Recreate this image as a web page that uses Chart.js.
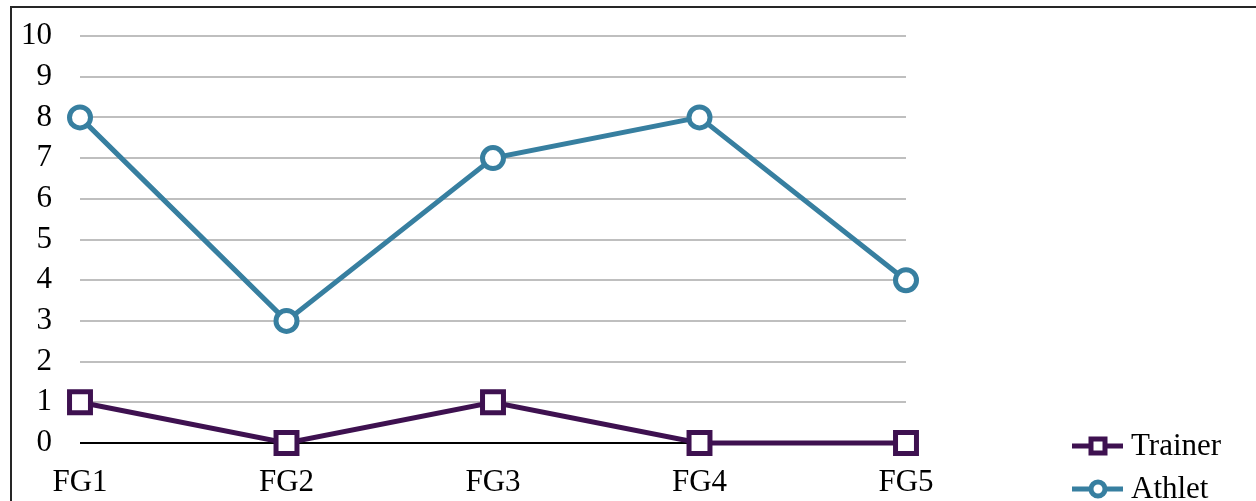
<!DOCTYPE html>
<html>
<head>
<meta charset="utf-8">
<script src="https://cdn.jsdelivr.net/npm/chart.js@4.4.1/dist/chart.umd.min.js"></script>
<style>
  html, body { margin: 0; padding: 0; background: #fff; }
  #wrap { position: relative; width: 1256px; height: 501px; }
  canvas { display: block; }
</style>
</head>
<body>
<div id="wrap"><canvas id="c" width="1256" height="501"></canvas></div>
<script>
// Focus-group categories and counts per group
const categories = ['FG1', 'FG2', 'FG3', 'FG4', 'FG5'];
const trainerValues = [1, 0, 1, 0, 0];
const athletValues = [8, 3, 7, 8, 4];
const yTicks = [0, 1, 2, 3, 4, 5, 6, 7, 8, 9, 10];

const FONT = '"Liberation Serif", "Times New Roman", serif';
const FONT_SIZE = 31;
const TRAINER = '#3E1150';
const ATHLET = '#377FA0';

// Frame along the top and left edge of the figure
const framePlugin = {
  id: 'frame',
  beforeDraw(chart) {
    const ctx = chart.ctx;
    ctx.save();
    ctx.strokeStyle = '#262626';
    ctx.lineWidth = 2;
    ctx.beginPath();
    ctx.moveTo(11, chart.height);
    ctx.lineTo(11, 7);
    ctx.lineTo(chart.width, 7);
    ctx.stroke();
    ctx.restore();
  }
};

// Legend drawn in the lower right corner with line + marker samples
const legendPlugin = {
  id: 'cornerLegend',
  afterDraw(chart) {
    const ctx = chart.ctx;
    const rows = [446, 489];
    chart.data.datasets.forEach((ds, i) => {
      const y = rows[i];
      ctx.save();
      ctx.strokeStyle = ds.borderColor;
      ctx.lineWidth = 5;
      ctx.beginPath();
      ctx.moveTo(1072, y);
      ctx.lineTo(1123, y);
      ctx.stroke();
      ctx.fillStyle = '#fff';
      ctx.beginPath();
      if (ds.pointStyle === 'rect') {
        ctx.rect(1091, y - 7, 14, 14);
      } else {
        ctx.arc(1098, y, 7, 0, Math.PI * 2);
      }
      ctx.fill();
      ctx.stroke();
      ctx.fillStyle = '#000';
      ctx.font = FONT_SIZE + 'px ' + FONT;
      ctx.textAlign = 'left';
      ctx.textBaseline = 'middle';
      ctx.fillText(ds.label, 1131, y + 1);
      ctx.restore();
    });
  }
};

new Chart(document.getElementById('c'), {
  type: 'line',
  data: {
    labels: categories,
    datasets: [
      {
        label: 'Trainer',
        data: trainerValues,
        borderColor: TRAINER,
        backgroundColor: '#fff',
        borderWidth: 5,
        pointStyle: 'rect',
        pointRadius: 14.8,
        pointBorderWidth: 5,
        pointBackgroundColor: '#fff',
        pointBorderColor: TRAINER,
        tension: 0,
        clip: false
      },
      {
        label: 'Athlet',
        data: athletValues,
        borderColor: ATHLET,
        backgroundColor: '#fff',
        borderWidth: 5,
        pointStyle: 'circle',
        pointRadius: 10.5,
        pointBorderWidth: 5,
        pointBackgroundColor: '#fff',
        pointBorderColor: ATHLET,
        tension: 0,
        clip: false
      }
    ]
  },
  options: {
    responsive: false,
    animation: false,
    events: [],
    layout: { padding: { top: 36, right: 350, bottom: 0, left: 0 } },
    plugins: {
      legend: { display: false },
      tooltip: { enabled: false }
    },
    scales: {
      x: {
        offset: false,
        grid: { display: false },
        border: { display: false },
        ticks: {
          color: '#000',
          font: { family: FONT, size: FONT_SIZE },
          padding: 13,
          maxRotation: 0,
          autoSkip: false
        },
        afterFit(scale) { scale.height = 58; }
      },
      y: {
        min: 0,
        max: 10,
        afterBuildTicks(scale) { scale.ticks = yTicks.map(v => ({ value: v })); },
        grid: {
          drawTicks: false,
          lineWidth: 2,
          color: ctx => (ctx.tick && ctx.tick.value === 0 ? '#000' : '#BFBFBF')
        },
        border: { display: false },
        ticks: {
          color: '#000',
          font: { family: FONT, size: FONT_SIZE },
          padding: 28,
          autoSkip: false
        },
        afterFit(scale) {
          scale.width = 80;
          scale.paddingTop = 0;
          scale.paddingBottom = 0;
        }
      }
    }
  },
  plugins: [framePlugin, legendPlugin]
});
</script>
</body>
</html>
